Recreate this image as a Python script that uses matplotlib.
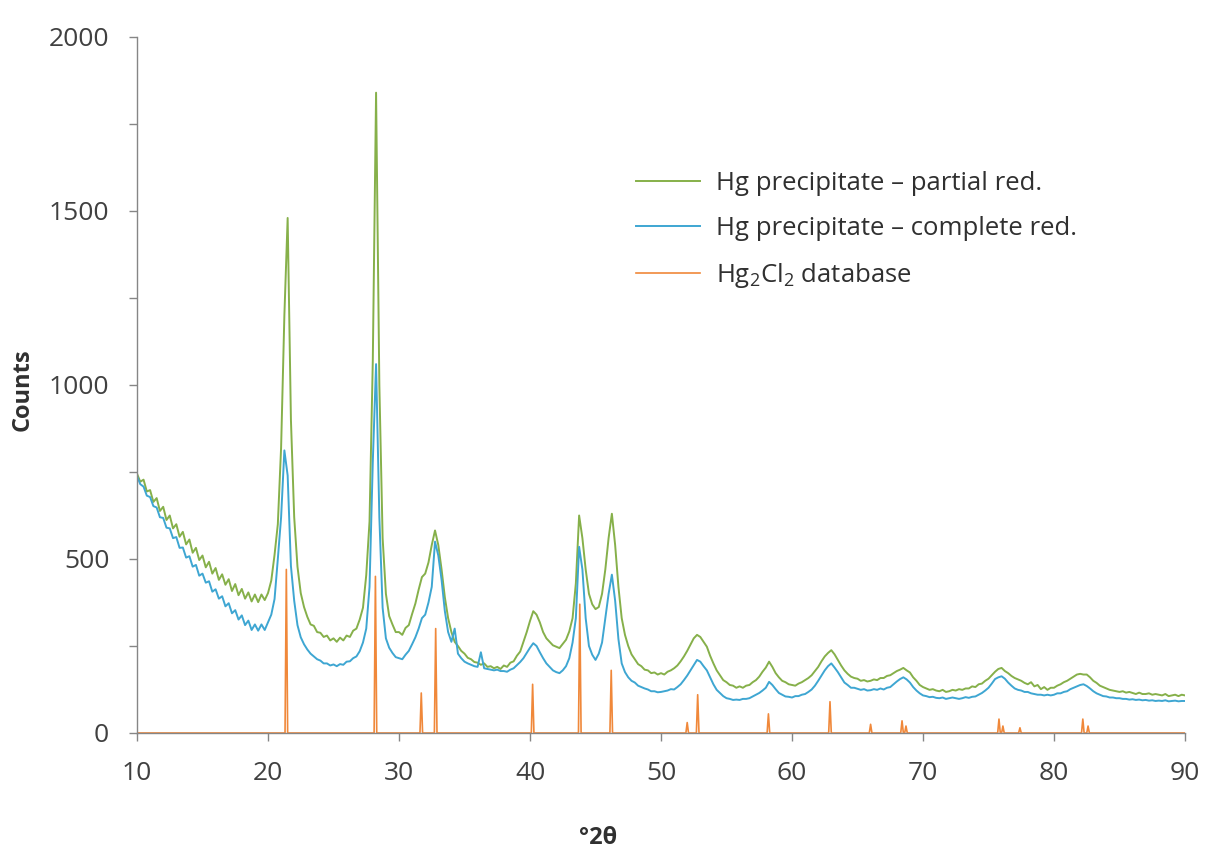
import numpy as np
import matplotlib
matplotlib.use("Agg")
import matplotlib.pyplot as plt
from matplotlib.ticker import MultipleLocator

# Diffractometer scan: start angle and step (°2θ)
scan_start = 10.0
scan_step = 0.25

# Hg precipitate after partial reduction (counts, two degrees per row)
partial_counts = [
    745, 722, 728, 694,  698, 664, 675, 638,
    650, 612, 625, 588,  600, 564, 578, 542,
    556, 518, 532, 497,  510, 476, 492, 458,
    474, 440, 456, 426,  442, 408, 428, 396,
    414, 386, 404, 378,  398, 376, 398, 382,
    402, 438, 512, 600,  820, 1200, 1480, 900,
    620, 478, 402, 362,  334, 312, 308, 290,
    288, 276, 280, 266,  272, 262, 274, 266,
    280, 276, 294, 300,  326, 360, 454, 608,
    1070, 1840, 1000, 560,  400, 336, 312, 290,
    290, 282, 302, 310,  342, 372, 412, 448,
    458, 490, 540, 582,  540, 470, 390, 330,
    290, 262, 250, 236,  228, 216, 212, 204,
    202, 196, 200, 190,  192, 186, 190, 184,
    194, 190, 202, 206,  222, 234, 262, 290,
    322, 350, 340, 318,  290, 272, 262, 252,
    248, 244, 256, 268,  292, 330, 430, 625,
    560, 470, 400, 370,  356, 362, 400, 470,
    560, 630, 540, 420,  330, 282, 250, 226,
    212, 198, 192, 182,  180, 172, 174, 168,
    172, 168, 176, 180,  186, 194, 206, 220,
    236, 254, 272, 282,  276, 262, 248, 222,
    200, 180, 166, 152,  146, 138, 136, 130,
    134, 130, 136, 138,  146, 152, 162, 176,
    188, 205, 190, 172,  160, 150, 146, 140,
    138, 136, 142, 146,  152, 158, 166, 178,
    190, 206, 220, 230,  238, 226, 210, 194,
    180, 170, 162, 158,  156, 150, 152, 148,
    150, 154, 152, 158,  158, 164, 166, 172,
    178, 182, 187, 180,  174, 160, 150, 138,
    132, 128, 124, 126,  122, 120, 124, 118,
    120, 124, 122, 126,  124, 128, 128, 134,
    132, 140, 142, 150,  156, 166, 176, 184,
    187, 178, 172, 164,  158, 154, 150, 144,
    140, 146, 134, 138,  126, 132, 124, 130,
    130, 136, 140, 146,  150, 156, 162, 168,
    170, 168, 168, 160,  150, 144, 136, 132,
    128, 124, 122, 120,  118, 120, 116, 118,
    115, 112, 116, 112,  112, 114, 110, 112,
    110, 108, 112, 106,  108, 110, 106, 110,
    108,
]

# Hg precipitate after complete reduction (counts, same scan)
complete_counts = [
    738, 715, 708, 682,  678, 652, 648, 620,
    618, 590, 588, 560,  563, 532, 533, 504,
    508, 478, 483, 452,  458, 432, 436, 406,
    413, 386, 393, 364,  373, 344, 353, 326,
    338, 310, 323, 296,  312, 294, 312, 296,
    318, 340, 385, 500,  620, 812, 740, 480,
    380, 310, 275, 255,  240, 228, 220, 212,
    208, 200, 200, 194,  197, 192, 198, 196,
    205, 206, 215, 220,  235, 260, 300, 420,
    780, 1060, 620, 360,  272, 245, 230, 218,
    215, 212, 225, 236,  255, 275, 300, 330,
    340, 375, 420, 550,  510, 440, 350, 290,
    262, 300, 228, 215,  205, 200, 196, 192,
    190, 232, 186, 184,  182, 180, 182, 178,
    178, 176, 182, 186,  195, 204, 215, 230,
    245, 258, 250, 232,  215, 200, 190, 180,
    175, 172, 180, 192,  215, 260, 330, 535,
    470, 330, 250, 225,  210, 228, 260, 330,
    400, 455, 380, 270,  200, 175, 160, 150,
    145, 136, 132, 128,  125, 120, 120, 117,
    118, 120, 122, 126,  125, 132, 140, 152,
    165, 180, 195, 210,  205, 192, 180, 160,
    140, 124, 115, 106,  100, 98, 95, 96,
    95, 98, 98, 100,  105, 110, 115, 122,
    130, 147, 138, 126,  115, 110, 105, 104,
    102, 106, 106, 110,  112, 118, 125, 136,
    150, 165, 180, 192,  200, 188, 175, 160,
    145, 138, 130, 130,  127, 124, 126, 122,
    123, 126, 124, 128,  125, 130, 132, 140,
    148, 155, 160, 154,  145, 132, 122, 114,
    108, 106, 103, 104,  101, 100, 102, 98,
    100, 102, 100, 98,  100, 103, 101, 104,
    105, 110, 115, 122,  130, 142, 155, 160,
    163, 156, 145, 136,  128, 124, 122, 118,
    118, 114, 112, 110,  110, 108, 110, 108,
    110, 114, 114, 118,  120, 126, 130, 134,
    138, 140, 135, 128,  120, 114, 110, 106,
    105, 102, 102, 100,  100, 98, 98, 96,
    97, 95, 96, 94,  95, 93, 94, 92,
    93, 92, 94, 91,  92, 93, 91, 92,
    92,
]

# Hg2Cl2 reference pattern: reflection positions (°2θ) and heights (counts)
ref_positions = [21.4, 28.2, 31.7, 32.8, 40.2, 43.8, 46.2, 52.0, 52.8,
                 58.2, 62.9, 66.0, 68.4, 68.7, 75.8, 76.1, 77.4, 82.2, 82.6]
ref_heights = [470, 450, 115, 300, 140, 370, 180, 30, 110,
               55, 90, 25, 35, 20, 40, 20, 15, 40, 20]

series_labels = ["Hg precipitate \u2013 partial red.",
                 "Hg precipitate \u2013 complete red.",
                 r"Hg$_{\mathrm{2}}$Cl$_{\mathrm{2}}$ database"]
series_colors = ["#86B04A", "#3EA6D2", "#F0883A"]

x_ticks = [10, 20, 30, 40, 50, 60, 70, 80, 90]
y_ticks = [0, 500, 1000, 1500, 2000]

plt.rcParams["font.family"] = ["Open Sans", "DejaVu Sans"]
plt.rcParams["mathtext.fontset"] = "custom"
plt.rcParams["mathtext.rm"] = "Open Sans"
plt.rcParams["mathtext.it"] = "Open Sans"

W, H = 1207, 857
fig = plt.figure(figsize=(W / 100, H / 100), dpi=100)
ax = fig.add_axes([137 / W, 1 - 733 / H, (1185 - 137) / W, (733 - 37) / H])

angles = scan_start + scan_step * np.arange(len(partial_counts))

# reference reflections drawn as narrow profiles on a zero baseline
half_w = 0.1
ref_x, ref_y = [x_ticks[0]], [0]
for p, h in zip(ref_positions, ref_heights):
    ref_x += [p - half_w, p, p + half_w]
    ref_y += [0, h, 0]
ref_x.append(x_ticks[-1])
ref_y.append(0)

ax.plot(angles, partial_counts, color=series_colors[0], lw=1.4,
        label=series_labels[0])
ax.plot(angles, complete_counts, color=series_colors[1], lw=1.4,
        label=series_labels[1])
ax.plot(ref_x, ref_y, color=series_colors[2], lw=1.2,
        label=series_labels[2])

ax.set_xlim(x_ticks[0], x_ticks[-1])
ax.set_ylim(y_ticks[0], y_ticks[-1])
ax.set_xticks(x_ticks)
ax.set_yticks(y_ticks)
ax.yaxis.set_minor_locator(MultipleLocator(250))

for side in ("top", "right"):
    ax.spines[side].set_visible(False)
for side in ("left", "bottom"):
    ax.spines[side].set_color("#868686")
    ax.spines[side].set_linewidth(1.0)

ax.tick_params(axis="both", which="both", direction="out", color="#868686",
               width=1.0, length=6, labelcolor="#404040", labelsize=19)
ax.tick_params(axis="x", pad=14)
ax.tick_params(axis="y", pad=14)

fig.text(23 / W, 1 - 390 / H, "Counts", rotation=90, ha="center",
         va="center", fontsize=17, fontweight="bold", color="#303030")
fig.text(598 / W, 1 - 838 / H, "°2θ", ha="center", va="center",
         fontsize=17, fontweight="bold", color="#303030")

leg = ax.legend(loc="upper left", bbox_to_anchor=(636 / W, 1 - 171 / H),
                bbox_transform=fig.transFigure, frameon=False, fontsize=18.5,
                handlelength=2.5, handletextpad=0.6, labelspacing=0.78,
                borderpad=0, borderaxespad=0)
for t in leg.get_texts():
    t.set_color("#303030")

fig.savefig("out.png", dpi=100)
